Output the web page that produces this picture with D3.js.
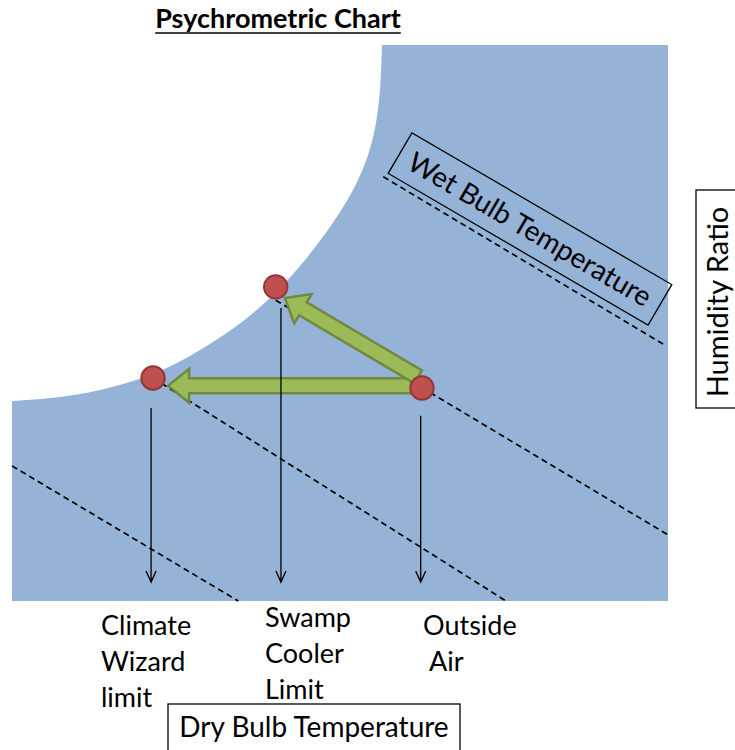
<!DOCTYPE html>
<meta charset="utf-8">
<style>
body { margin: 0; background: #fff; }
svg { font-family: Lato, "Open Sans", sans-serif; }
.sat { fill: #95b3d7; }
.wetbulb { fill: none; stroke: #000; stroke-width: 1.7px; stroke-dasharray: 6,4; }
.box { fill: none; stroke: #000; stroke-width: 1.3px; }
.drop { fill: none; stroke: #000; stroke-width: 1.3px; }
.process { fill: #9bbb59; stroke: #71893f; stroke-width: 2.5px; stroke-linejoin: miter; }
.state { fill: #c0504d; stroke: #943634; stroke-width: 2px; }
</style>

<svg width="735" height="750"></svg>
<script src="https://cdn.jsdelivr.net/npm/d3@7/dist/d3.min.js"></script>
<script>

// saturation curve, dry bulb vs humidity ratio (relative units 0-100)
var satDry = [0, 7.32, 13.41, 21.49, 28.66, 35.82, 40.24, 43.90, 47.26, 50.0, 52.29, 54.12, 55.34, 56.10, 56.40];
var satHum = [35.97, 36.69, 37.95, 40.83, 45.14, 50.90, 55.58, 60.25, 65.29, 69.96, 74.64, 79.68, 85.07, 91.91, 100];

// air states
var stateNames = ["Outside Air", "Swamp Cooler Limit", "Climate Wizard limit"];
var stateDry = [62.5, 40.2, 21.5];
var stateHum = [38.3, 56.5, 40.1];

// wet bulb lines (start / end)
var wbStartDry = [0, 21.5, 40.2, 56.6];
var wbStartHum = [24.3, 40.1, 54.1, 76.3];
var wbEndDry = [34.5, 75.3, 100, 99.7];
var wbEndHum = [0, 0, 11.9, 45.9];

// drop arrows down to the dry bulb axis
var dropDry = [62.3, 41.0, 21.2];
var dropTop = [33.3, 52.7, 34.7];
var dropBottom = 3.4;

// cooling processes (from -> to)
var procFromDry = [61.0, 61.9];
var procFromHum = [38.7, 40.3];
var procToDry = [23.8, 41.6];
var procToHum = [38.7, 54.5];

var labelLines = [["Outside", " Air"], ["Swamp", "Cooler", "Limit"], ["Climate", "Wizard", "limit"]];

var svg = d3.select("svg"),
    width = +svg.attr("width"),
    height = +svg.attr("height");

var x = d3.scaleLinear().domain([0, 100]).range([12, 668]);
var y = d3.scaleLinear().domain([0, 100]).range([601, 45]);

// blue region under the saturation curve
var satPts = satDry.map(function(d, i) { return [x(d), y(satHum[i])]; });
var curve = d3.line().curve(d3.curveCatmullRom)(satPts);
svg.append("path")
    .attr("class", "sat")
    .attr("d", curve + "L" + x(100) + "," + y(100) + "L" + x(100) + "," + y(0) +
               "L" + x(0) + "," + y(0) + "Z");

// wet bulb lines
svg.append("g").selectAll("line")
    .data(wbStartDry)
    .enter().append("line")
    .attr("class", "wetbulb")
    .attr("x1", function(d) { return x(d); })
    .attr("y1", function(d, i) { return y(wbStartHum[i]); })
    .attr("x2", function(d, i) { return x(wbEndDry[i]); })
    .attr("y2", function(d, i) { return y(wbEndHum[i]); });

// wet bulb label box, rotated along the lines
var ang = 30.3;
var wb = svg.append("g").attr("transform", "translate(530,229) rotate(" + ang + ")");
wb.append("rect").attr("class", "box")
    .attr("x", -150.5).attr("y", -23.5).attr("width", 301).attr("height", 47);
wb.append("text")
    .attr("text-anchor", "middle")
    .attr("dy", "0.36em")
    .style("font-size", "28px")
    .text("Wet Bulb Temperature");

// green process arrows
var sw = 15, hw = 34, hl = 21;
svg.append("g").selectAll("path")
    .data(procFromDry)
    .enter().append("path")
    .attr("class", "process")
    .attr("transform", function(d, i) {
      var x0 = x(d), y0 = y(procFromHum[i]),
          x1 = x(procToDry[i]), y1 = y(procToHum[i]);
      var a = Math.atan2(y1 - y0, x1 - x0) * 180 / Math.PI;
      return "translate(" + x0 + "," + y0 + ") rotate(" + a + ")";
    })
    .attr("d", function(d, i) {
      var L = Math.hypot(x(procToDry[i]) - x(d), y(procToHum[i]) - y(procFromHum[i]));
      return "M0," + (-sw/2) + "L" + (L-hl) + "," + (-sw/2) + "L" + (L-hl) + "," + (-hw/2) +
             "L" + L + ",0L" + (L-hl) + "," + (hw/2) + "L" + (L-hl) + "," + (sw/2) +
             "L0," + (sw/2) + "Z";
    });

// thin drop arrows
svg.append("g").selectAll("path")
    .data(dropDry)
    .enter().append("path")
    .attr("class", "drop")
    .attr("d", function(d, i) {
      var xx = x(d), yb = y(dropBottom);
      return "M" + xx + "," + y(dropTop[i]) + "L" + xx + "," + yb +
             "M" + (xx - 5) + "," + (yb - 11) + "L" + xx + "," + yb + "L" + (xx + 5) + "," + (yb - 11);
    });

// state points
svg.append("g").selectAll("circle")
    .data(stateDry)
    .enter().append("circle")
    .attr("class", "state")
    .attr("r", 11.7)
    .attr("cx", function(d) { return x(d); })
    .attr("cy", function(d, i) { return y(stateHum[i]); });

// labels under the chart
var labelX = [423, 265, 101];
var labelY = [635, 627, 635];
var lab = svg.append("g").selectAll("text")
    .data(labelLines)
    .enter().append("text")
    .style("font-size", "27px")
    .attr("x", function(d, i) { return labelX[i]; })
    .attr("y", function(d, i) { return labelY[i]; });
lab.selectAll("tspan")
    .data(function(d) { return d; })
    .enter().append("tspan")
    .attr("x", function() { return this.parentNode.getAttribute("x"); })
    .attr("dy", function(d, i) { return i ? 36 : 0; })
    .style("white-space", "pre")
    .text(function(d) { return d; });

// dry bulb axis box
svg.append("rect").attr("class", "box")
    .attr("x", 168).attr("y", 704).attr("width", 292).attr("height", 60);
svg.append("text")
    .attr("x", 314).attr("y", 737)
    .attr("text-anchor", "middle")
    .style("font-size", "28px")
    .text("Dry Bulb Temperature");

// humidity ratio axis box
svg.append("rect").attr("class", "box")
    .attr("x", 696).attr("y", 190).attr("width", 60).attr("height", 218);
svg.append("text")
    .attr("transform", "translate(728,302) rotate(-90)")
    .attr("text-anchor", "middle")
    .style("font-size", "29px")
    .text("Humidity Ratio");

// title
var title = svg.append("text")
    .attr("x", 278).attr("y", 28)
    .attr("text-anchor", "middle")
    .style("font-size", "27px")
    .style("font-weight", "bold")
    .text("Psychrometric Chart");
var tb = title.node().getBBox();
svg.append("line")
    .attr("x1", tb.x).attr("x2", tb.x + tb.width)
    .attr("y1", 33).attr("y2", 33)
    .attr("stroke", "#000").attr("stroke-width", 1.5);

</script>
